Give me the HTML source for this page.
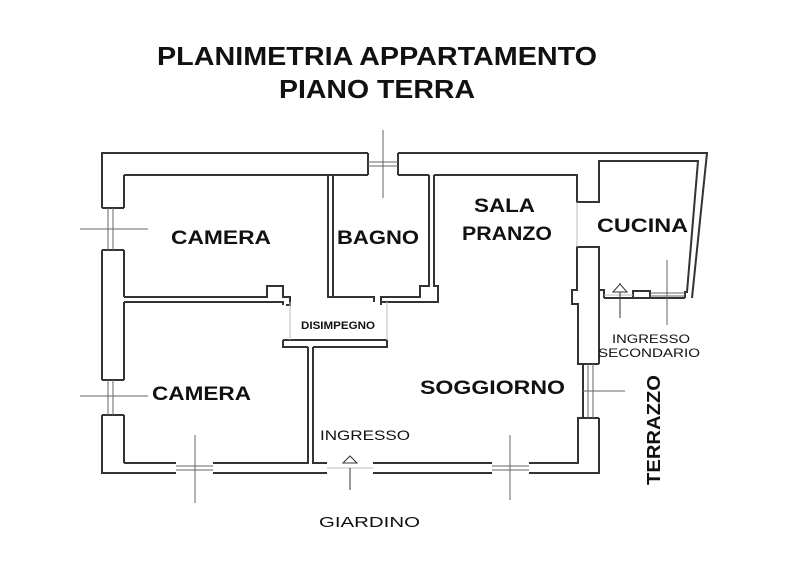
<!DOCTYPE html>
<html><head><meta charset="utf-8"><style>
html,body{margin:0;padding:0;background:#fff;}
svg{display:block;}
text{font-family:"Liberation Sans",Arial,sans-serif;fill:#111;}
</style></head><body>
<svg width="800" height="586" viewBox="0 0 800 586" xmlns="http://www.w3.org/2000/svg">
<rect width="800" height="586" fill="#fff"/>
<g fill="none" stroke="#333" stroke-width="2">
<!-- outer outline -->
<path d="M368,153 H102 V208 M102,250 V380 M102,415 V473 H176 M213,473 H327 M373,473 H492 M529,473 H599 V418 M599,364 V298 M604,298 H685 M692,298 L707,153 H398"/>
<path d="M368,153 V175 M398,153 V175"/>
<!-- left windows -->
<path d="M102,208 H124 M102,250 H124 M102,380 H124 M102,415 H124" />
<path d="M124,175 V208 M124,250 V297 M124,302 V380 M124,415 V463"/>
<!-- camera top -->
<path d="M124,175 H368 M398,175 H429 M328,175 V286 M124,297 H267 V286 H283 V297 H290 V305 H286"/>
<path d="M328,175 V297 H333 V175"/>
<!-- bagno -->
<path d="M333,297 H374 V302 M429,175 V286 H420 V297 H381 V305 M434,175 V286 H438 V302 H381"/>
<!-- camera lower -->
<path d="M124,302 H283 V305 M124,463 H176 M213,463 H308 V347"/>
<!-- disimpegno -->
<path d="M283,340 V347 H308 M313,347 H387 V340 M283,340 H387"/>
<!-- soggiorno -->
<path d="M313,347 V463 H327 M373,463 H492 M529,463 H578 V418 H583 V364 H578 V304 H572 V290 H577 V247 H599 V290 H604 V298"/>
<path d="M583,364 H599 M583,418 H599"/>
<!-- sala/cucina -->
<path d="M434,175 H577 V202 H599 V161 H698 L687,292 H685 V298"/>
<path d="M599,290 V298"/>
<rect x="633" y="291" width="17" height="7"/>
</g>
<!-- window thin lines -->
<g stroke="#666" stroke-width="1" fill="none">
<path d="M368,162 H398 M368,166 H398 M383,130 V198"/>
<path d="M108,208 V250 M113,208 V250 M80,229 H148"/>
<path d="M108,380 V415 M113,380 V415 M80,396 H148"/>
<path d="M176,466 H213 M176,470 H213 M195,435 V503"/>
<path d="M492,466 H529 M492,470 H529 M510,435 V500"/>
<path d="M588,364 V418 M593,364 V418 M583,391 H625"/>
<path d="M650,293 H685 M650,296 H685 M667,260 V325"/>
<path d="M577,202 V247" stroke="#bbb"/>
<path d="M387,302 V340 M290,302 V340" stroke="#bbb"/>
<path d="M327,468 H373 M604,295 H633" stroke="#bbb"/>
<path d="M350,468 V490 M620,283 V318" stroke="#333"/>
<path d="M343,463 L350,456 L357,463 Z M613,292 L620,284 L627,292 Z" stroke="#333" fill="#fff"/>
</g>
<!-- texts -->
<text x="157" y="65" font-size="26" font-weight="bold" textLength="440" lengthAdjust="spacingAndGlyphs">PLANIMETRIA APPARTAMENTO</text>
<text x="279" y="98" font-size="26" font-weight="bold" textLength="196" lengthAdjust="spacingAndGlyphs">PIANO TERRA</text>
<text x="171" y="244" font-size="19" font-weight="bold" textLength="100" lengthAdjust="spacingAndGlyphs">CAMERA</text>
<text x="337" y="244" font-size="19" font-weight="bold" textLength="82" lengthAdjust="spacingAndGlyphs">BAGNO</text>
<text x="474" y="212" font-size="19" font-weight="bold" textLength="61" lengthAdjust="spacingAndGlyphs">SALA</text>
<text x="462" y="240" font-size="19" font-weight="bold" textLength="90" lengthAdjust="spacingAndGlyphs">PRANZO</text>
<text x="597" y="232" font-size="19" font-weight="bold" textLength="91" lengthAdjust="spacingAndGlyphs">CUCINA</text>
<text x="301" y="329" font-size="11" font-weight="bold" textLength="74" lengthAdjust="spacingAndGlyphs">DISIMPEGNO</text>
<text x="152" y="400" font-size="19" font-weight="bold" textLength="99" lengthAdjust="spacingAndGlyphs">CAMERA</text>
<text x="420" y="394" font-size="19" font-weight="bold" textLength="145" lengthAdjust="spacingAndGlyphs">SOGGIORNO</text>
<text x="320" y="440" font-size="14" textLength="90" lengthAdjust="spacingAndGlyphs">INGRESSO</text>
<text x="319" y="527" font-size="15" textLength="101" lengthAdjust="spacingAndGlyphs">GIARDINO</text>
<text x="612" y="343" font-size="12" textLength="78" lengthAdjust="spacingAndGlyphs">INGRESSO</text>
<text x="598" y="357" font-size="12" textLength="102" lengthAdjust="spacingAndGlyphs">SECONDARIO</text>
<text transform="translate(660,485) rotate(-90)" font-size="18" font-weight="bold" textLength="110" lengthAdjust="spacingAndGlyphs">TERRAZZO</text>
</svg>
</body></html>
